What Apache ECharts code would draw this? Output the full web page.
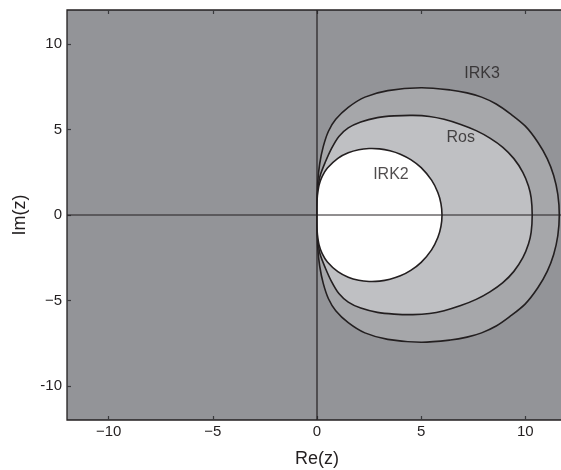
<!DOCTYPE html>
<html><head><meta charset="utf-8">
<script src="https://cdn.jsdelivr.net/npm/echarts@6/dist/echarts.min.js"></script>
<style>html,body{margin:0;padding:0;background:#fff}#c{width:561px;height:470px}</style>
</head><body><div id="c"></div>
<script>
// ---- tick values and labels ----
const xTicks = [-10, -5, 0, 5, 10];
const xTickLabels = ['\u221210', '\u22125', '0', '5', '10'];
const yTicks = [-10, -5, 0, 5, 10];
const yTickLabels = ['-10', '\u22125', '0', '5', '10'];

// ---- boundary curves [Re, Im] ----
const irk3Curve = [
  [0,0],[0.01,1.0],[0.04,2.0],[0.13,3.0],[0.3,4.0],[0.55,4.9],[0.9,5.6],[1.5,6.3],[2.3,6.9],
  [3.4,7.28],[5.0,7.45],[6.4,7.32],[7.2,7.15],[7.9,6.9],[8.6,6.5],[9.25,5.95],[10.0,5.2],
  [10.6,4.26],[11.05,3.3],[11.36,2.31],[11.56,1.2],[11.63,0],
  [11.56,-1.2],[11.36,-2.31],[11.05,-3.3],[10.6,-4.26],[10.0,-5.2],[9.25,-5.95],[8.6,-6.5],
  [7.9,-6.9],[7.2,-7.15],[6.4,-7.32],[5.0,-7.45],[3.4,-7.28],[2.3,-6.9],[1.5,-6.3],[0.9,-5.6],
  [0.55,-4.9],[0.3,-4.0],[0.13,-3.0],[0.04,-2.0],[0.01,-1.0]
];
const rosCurve = [
  [0,0],[0.01,0.9],[0.05,1.6],[0.15,2.3],[0.4,3.1],[0.7,3.9],[1.05,4.6],[1.5,5.1],[2.1,5.45],
  [2.9,5.7],[3.7,5.8],[4.6,5.83],[5.4,5.77],[6.1,5.6],[6.9,5.3],[7.64,4.94],[8.3,4.5],
  [8.92,3.96],[9.45,3.3],[9.88,2.5],[10.15,1.7],[10.28,1.0],[10.33,0],
  [10.28,-1.0],[10.15,-1.7],[9.88,-2.5],[9.45,-3.3],[8.92,-3.96],[8.3,-4.5],[7.64,-4.94],
  [6.9,-5.3],[6.1,-5.6],[5.4,-5.77],[4.6,-5.83],[3.7,-5.8],[2.9,-5.7],[2.1,-5.45],[1.5,-5.1],
  [1.05,-4.6],[0.7,-3.9],[0.4,-3.1],[0.15,-2.3],[0.05,-1.6],[0.01,-0.9]
];
const irk2Curve = [
  [0,0],[0.005,0.79],[0.02,1.13],[0.1,1.75],[0.25,2.26],[0.5,2.75],[1.0,3.32],[1.5,3.64],
  [2.0,3.82],[2.5,3.89],[3.0,3.87],[3.5,3.76],[4.0,3.56],[4.5,3.24],[5.0,2.77],[5.5,2.04],
  [5.8,1.32],[5.95,0.67],[6.0,0],
  [5.95,-0.67],[5.8,-1.32],[5.5,-2.04],[5.0,-2.77],[4.5,-3.24],[4.0,-3.56],[3.5,-3.76],
  [3.0,-3.87],[2.5,-3.89],[2.0,-3.82],[1.5,-3.64],[1.0,-3.32],[0.5,-2.75],[0.25,-2.26],
  [0.1,-1.75],[0.02,-1.13],[0.005,-0.79]
];

// ---- curve labels ----
const labelNames = ['IRK3', 'Ros', 'IRK2'];
const labelX = [7.92, 6.9, 3.55];
const labelY = [8.29, 4.51, 2.38];

const FONT = "'Liberation Sans', Arial, Helvetica, sans-serif";
const INK = '#231f20';

function polySeries(curve, fill, z) {
  return {
    type: 'custom', coordinateSystem: 'cartesian2d', xAxisIndex: 0, yAxisIndex: 0,
    z: z, silent: true, clip: true,
    data: [curve[0]],
    renderItem: function (params, api) {
      const pts = curve.map(p => api.coord(p));
      return {
        type: 'polygon',
        shape: { points: pts, smooth: 0.3 },
        style: { fill: fill, stroke: INK, lineWidth: 1.6 }
      };
    }
  };
}

function lookup(ticks, labels) {
  return function (v) {
    const i = ticks.indexOf(Math.round(v * 1000) / 1000);
    return i >= 0 ? labels[i] : '';
  };
}

const chart = echarts.init(document.getElementById('c'), null, { renderer: 'canvas' });
const tickStyle = { inside: true, length: 4, lineStyle: { color: '#3a3a3c', width: 1.2 } };
const noLine = { show: false, onZero: false };

chart.setOption({
  animation: false,
  backgroundColor: '#ffffff',
  grid: {
    left: 67, top: 10, width: 500, height: 410,
    show: true, backgroundColor: '#939498', borderColor: INK, borderWidth: 1.3,
    containLabel: false, outerBoundsMode: 'none'
  },
  xAxis: [{
    type: 'value', min: -12, max: 12, position: 'bottom',
    name: 'Re(z)', nameLocation: 'middle', nameGap: 30,
    nameTextStyle: { fontFamily: FONT, fontSize: 18, color: INK },
    axisLine: noLine, splitLine: { show: false },
    axisTick: Object.assign({ customValues: xTicks }, tickStyle),
    axisLabel: { customValues: xTicks, formatter: lookup(xTicks, xTickLabels), fontFamily: FONT, fontSize: 15, color: INK, margin: 4 }
  }, {
    type: 'value', min: -12, max: 12, position: 'top',
    axisLine: noLine, splitLine: { show: false },
    axisTick: Object.assign({ customValues: xTicks }, tickStyle),
    axisLabel: { show: false }
  }],
  yAxis: [{
    type: 'value', min: -12, max: 12, position: 'left',
    name: 'Im(z)', nameLocation: 'middle', nameGap: 38, nameRotate: 90,
    nameTextStyle: { fontFamily: FONT, fontSize: 18, color: INK },
    axisLine: noLine, splitLine: { show: false },
    axisTick: Object.assign({ customValues: yTicks }, tickStyle),
    axisLabel: { customValues: yTicks, formatter: lookup(yTicks, yTickLabels), fontFamily: FONT, fontSize: 15, color: INK, margin: 5 }
  }, {
    type: 'value', min: -12, max: 12, position: 'right',
    axisLine: noLine, splitLine: { show: false },
    axisTick: Object.assign({ customValues: yTicks }, tickStyle),
    axisLabel: { show: false }
  }],
  series: [
    polySeries(irk3Curve, '#a6a7aa', 2),
    polySeries(rosCurve, '#bfc0c3', 3),
    polySeries(irk2Curve, '#ffffff', 4),
    {
      type: 'line', xAxisIndex: 0, yAxisIndex: 0, z: 6, silent: true, symbol: 'none',
      data: [[-12, 0], [12, 0]], lineStyle: { color: INK, width: 1 }
    },
    {
      type: 'line', xAxisIndex: 0, yAxisIndex: 0, z: 6, silent: true, symbol: 'none',
      data: [[0, -12], [0, 12]], lineStyle: { color: INK, width: 1.2 }
    },
    {
      type: 'scatter', xAxisIndex: 0, yAxisIndex: 0, z: 7, silent: true, symbolSize: 0,
      data: labelNames.map((n, i) => [labelX[i], labelY[i], n]),
      label: {
        show: true, position: 'inside', formatter: p => p.data[2],
        fontFamily: FONT, fontSize: 16, color: INK
      }
    }
  ]
});
</script>
</body></html>
